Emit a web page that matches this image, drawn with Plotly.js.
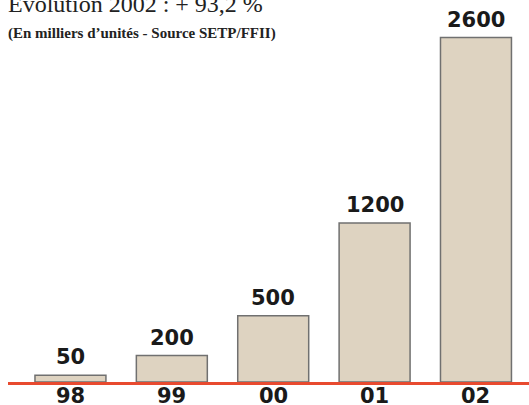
<!DOCTYPE html>
<html>
<head>
<meta charset="utf-8">
<script src="https://cdn.plot.ly/plotly-3.0.1.min.js"></script>
<style>html,body{margin:0;padding:0;background:#fff;}#chart{width:529px;height:405px;}</style>
</head>
<body>
<div id="chart"></div>
<script>
var categories = ['98', '99', '00', '01', '02'];
var values = [50, 200, 500, 1200, 2600];
var labels = ['50', '200', '500', '1200', '2600'];
var titleText = 'Évolution 2002 : + 93,2 %';
var subtitleText = '(En milliers d\u2019unités - Source SETP/FFII)';

var trace = {
  type: 'bar',
  x: categories.map(function (c, i) { return i; }),
  y: values,
  marker: { color: '#ded3c1', line: { color: '#707070', width: 1.5 } },
  hoverinfo: 'none'
};

var labelFont = { family: 'DejaVu Sans', size: 21, color: '#1a1a1a', weight: 'bold' };

var annotations = values.map(function (v, i) {
  return {
    x: i, y: v, xref: 'x', yref: 'y', text: labels[i], showarrow: false,
    yanchor: 'bottom', yshift: 4, font: labelFont
  };
});
categories.forEach(function (c, i) {
  annotations.push({
    x: i, y: 0, xref: 'x', yref: 'paper', text: c, showarrow: false,
    yanchor: 'top', yshift: 0, font: labelFont
  });
});
annotations.push({
  xref: 'paper', yref: 'paper', x: 0, y: 0.950, xanchor: 'left', yanchor: 'bottom', xshift: -2,
  text: titleText, showarrow: false,
  font: { family: 'Liberation Serif', size: 24, color: '#222' }
});
annotations.push({
  xref: 'paper', yref: 'paper', x: 0, y: 0.884, xanchor: 'left', yanchor: 'bottom', xshift: -2,
  text: '<b>' + subtitleText + '</b>', showarrow: false,
  font: { family: 'Liberation Serif', size: 15, color: '#222' }
});

var layout = {
  width: 529, height: 405,
  margin: { l: 8, r: 0, t: 0, b: 23 },
  paper_bgcolor: '#fff', plot_bgcolor: '#fff',
  showlegend: false,
  bargap: 0.3,
  xaxis: {
    range: [-0.616, 4.523],
    showticklabels: false,
    showgrid: false, zeroline: false,
    showline: true, linecolor: '#e84a2f', linewidth: 2.5,
    ticks: ''
  },
  yaxis: {
    range: [0, 2883], visible: false, showgrid: false, zeroline: false
  },
  annotations: annotations
};

Plotly.newPlot('chart', [trace], layout, { displayModeBar: false, staticPlot: true });
</script>
</body>
</html>
